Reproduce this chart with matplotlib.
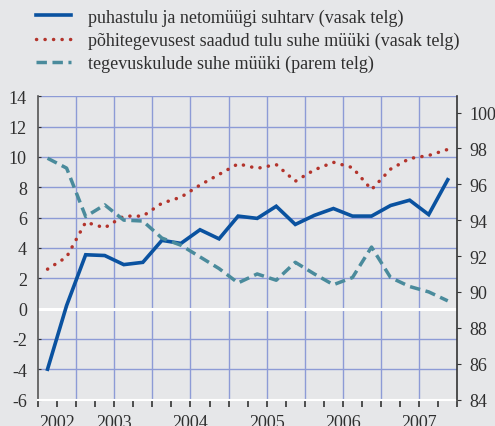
import matplotlib
matplotlib.use('Agg')
import matplotlib.pyplot as plt
from matplotlib.lines import Line2D

# ---- data ----
quarters = ['2002Q3', '2002Q4',
            '2003Q1', '2003Q2', '2003Q3', '2003Q4',
            '2004Q1', '2004Q2', '2004Q3', '2004Q4',
            '2005Q1', '2005Q2', '2005Q3', '2005Q4',
            '2006Q1', '2006Q2', '2006Q3', '2006Q4',
            '2007Q1', '2007Q2', '2007Q3', '2007Q4']
net_margin = [-4.0, 0.2, 3.55, 3.5, 2.9, 3.05, 4.5, 4.3, 5.2, 4.6, 6.1,
              5.95, 6.75, 5.55, 6.15, 6.6, 6.1, 6.1, 6.8, 7.15, 6.2, 8.5]
oper_income = [2.6, 3.4, 5.7, 5.33, 6.1, 6.1, 6.95, 7.35, 8.15, 8.85, 9.55,
               9.25, 9.5, 8.4, 9.15, 9.65, 9.3, 7.85, 9.2, 9.9, 10.1, 10.5]
oper_cost = [97.45, 96.9, 94.2, 94.85, 94.0, 93.95, 93.0, 92.6, 91.95, 91.3, 90.5,
             91.0, 90.65, 91.65, 91.0, 90.4, 90.8, 92.5, 90.8, 90.3, 90.0, 89.5]
years = ['2002', '2003', '2004', '2005', '2006', '2007']
labels = ['puhastulu ja netomüügi suhtarv (vasak telg)',
          'põhitegevusest saadud tulu suhe müüki (vasak telg)',
          'tegevuskulude suhe müüki (parem telg)']
left_ticks = list(range(-6, 15, 2))
right_ticks = list(range(84, 101, 2))

# ---- style ----
plt.rcParams['font.family'] = ['Liberation Serif', 'DejaVu Serif']
BG = '#e6e7e9'
GRID = '#8d9bd6'
BLUE = '#0a52a0'
RED = '#b3342c'
TEAL = '#4a8b9c'
TXT = '#2f2f2f'
FS = 13

x = [int(q[:4]) + (int(q[5]) - 0.5) / 4 for q in quarters]

fig = plt.figure(figsize=(4.95, 4.27), dpi=100, facecolor=BG)
ax = fig.add_axes([0.0768, 0.062, 0.847, 0.710])
ax.set_facecolor(BG)
ax2 = ax.twinx()

ax.set_xlim(2002.5, 2008.0)
ax.set_ylim(-6, 14)
ax2.set_ylim(84, 100.9)

# grid
for v in left_ticks:
    ax.axhline(v, color=GRID, lw=1.0, zorder=1)
for i in range(10):
    ax.axvline(2003.0 + 0.5 * i, color=GRID, lw=1.0, zorder=1)
ax.axhline(0, color='white', lw=2.2, zorder=2)

# series
ax.plot(x, net_margin, color=BLUE, lw=2.6, zorder=5, solid_joinstyle='miter')
ax.plot(x, oper_income, color=RED, lw=2.5, linestyle=(0, (0.05, 2.4)),
        dash_capstyle='round', zorder=4)
ax2.plot(x, oper_cost, color=TEAL, lw=2.5, linestyle=(0, (3.0, 1.6)), zorder=3)
ax2.set_zorder(ax.get_zorder() + 1)
ax2.patch.set_visible(False)

# spines
ax.spines['top'].set_visible(False)
ax2.spines['top'].set_visible(False)
ax.spines['right'].set_visible(False)
ax2.spines['left'].set_visible(False)
ax2.spines['bottom'].set_visible(False)
ax.spines['bottom'].set_color('white')
ax.spines['bottom'].set_linewidth(1.5)
ax.spines['left'].set_color('#555555')
ax.spines['left'].set_linewidth(1.2)
ax2.spines['right'].set_color('#333333')
ax2.spines['right'].set_linewidth(1.2)

# ticks
ax.set_yticks(left_ticks)
ax.set_yticklabels([str(v) for v in left_ticks])
ax.tick_params(axis='y', direction='in', length=2, pad=8, labelsize=FS,
               labelcolor=TXT, color='#333333')
ax2.set_yticks(right_ticks)
ax2.set_yticklabels([str(v) for v in right_ticks])
ax2.tick_params(axis='y', direction='out', length=3, pad=6, labelsize=FS,
                labelcolor=TXT, color='#333333')

qticks = [2002.5 + 0.25 * i for i in range(23)]
ax.set_xticks(qticks)
ax.set_xticklabels([''] * len(qticks))
ax.tick_params(axis='x', direction='out', length=5, width=1.2, color='#333333')

year_pos = [2002.75, 2003.5, 2004.5, 2005.5, 2006.5, 2007.5]
for yp, lab in zip(year_pos, years):
    ax.text(yp, -0.047, lab, transform=ax.get_xaxis_transform(), ha='center',
            va='top', fontsize=FS, color=TXT)

# legend
handles = [Line2D([0], [0], color=BLUE, lw=2.6),
           Line2D([0], [0], color=RED, lw=2.5, linestyle=(0, (0.05, 2.4)),
                  dash_capstyle='round'),
           Line2D([0], [0], color=TEAL, lw=2.5, linestyle=(0, (3.0, 1.6)))]
leg = fig.legend(handles, labels, loc='upper left', bbox_to_anchor=(0.051, 1.003),
                 frameon=False, fontsize=FS, handlelength=1.95, handletextpad=0.9,
                 labelspacing=0.32, borderaxespad=0.2)
for t in leg.get_texts():
    t.set_color(TXT)

fig.savefig('out.png', dpi=100, facecolor=BG)
